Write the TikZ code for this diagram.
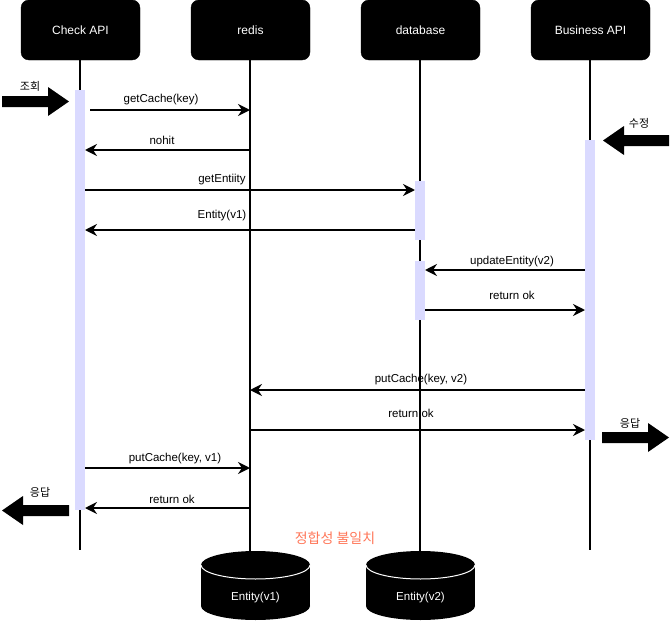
\documentclass[tikz,border=0pt]{standalone}
\usepackage{fontspec}
\setmainfont{Liberation Sans}
\newfontfamily\kr{Noto Sans CJK KR}
\usetikzlibrary{arrows.meta}
\definecolor{actv}{RGB}{218,218,255}
\definecolor{warnred}{RGB}{255,118,88}
\tikzset{
  header/.style={rectangle, rounded corners=8pt, fill=black, draw=black, text=white,
    minimum width=119pt, minimum height=60pt, inner sep=0pt, font=\fontsize{12}{14}\selectfont},
  lifeline/.style={line width=1.3pt, draw=black},
  actbox/.style={rectangle, fill=actv, draw=none, minimum width=10pt, inner sep=0pt},
  msg/.style={line width=2.2pt, -{Stealth[length=12pt, width=12pt, inset=4pt]}},
  lbl/.style={font=\fontsize{11.5}{13}\selectfont, inner sep=0pt},
  krl/.style={font=\kr\fontsize{11}{13}\selectfont, inner sep=0pt},
  blockarrow/.style={fill=black, draw=none},
  dbtext/.style={text=white, font=\fontsize{11.5}{13}\selectfont, inner sep=0pt}
}
\begin{document}
\begin{tikzpicture}[x=1pt, y=-1pt]
\useasboundingbox (0,0) rectangle (670,621);
% headers
\node[header] (h1) at (80.5,30) {Check API};
\node[header] (h2) at (250.5,30) {redis};
\node[header] (h3) at (420.5,30) {database};
\node[header] (h4) at (590.5,30) {Business API};
% lifeline ends
\coordinate (e1) at (80,550);
\coordinate (e2) at (250,551);
\coordinate (e3) at (420,551);
\coordinate (e4) at (590,550);
\draw[lifeline] (80,60) -- (e1);
\draw[lifeline] (250,60) -- (e2);
\draw[lifeline] (420,60) -- (e3);
\draw[lifeline] (590,60) -- (e4);
% activations
\node[actbox, minimum height=420pt] (a1) at (80,300) {};
\node[actbox, minimum height=59pt] (a3) at (420,210.5) {};
\node[actbox, minimum height=59pt] (a3b) at (420,290.5) {};
\node[actbox, minimum height=300pt] (a4) at (590,290) {};
% message endpoints
\coordinate (m1s) at (90,110);   \coordinate (m1e) at (250,110);
\coordinate (m2s) at (250,150);  \coordinate (m2e) at (85,150);
\coordinate (m3s) at (85,190);   \coordinate (m3e) at (415,190);
\coordinate (m4s) at (415,230);  \coordinate (m4e) at (85,230);
\coordinate (m5s) at (585,270);  \coordinate (m5e) at (425,270);
\coordinate (m6s) at (425,310);  \coordinate (m6e) at (585,310);
\coordinate (m7s) at (585,390);  \coordinate (m7e) at (250,390);
\coordinate (m8s) at (250,430);  \coordinate (m8e) at (585,430);
\coordinate (m9s) at (85,468);   \coordinate (m9e) at (250,468);
\coordinate (m10s) at (250,508); \coordinate (m10e) at (85,508);
\draw[msg] (m1s) -- (m1e);
\draw[msg] (m2s) -- (m2e);
\draw[msg] (m3s) -- (m3e);
\draw[msg] (m4s) -- (m4e);
\draw[msg] (m5s) -- (m5e);
\draw[msg] (m6s) -- (m6e);
\draw[msg] (m7s) -- (m7e);
\draw[msg] (m8s) -- (m8e);
\draw[msg] (m9s) -- (m9e);
\draw[msg] (m10s) -- (m10e);
% labels
\node[lbl] (l1) at (161,100) {getCache(key)};
\node[lbl] (l2) at (162,140) {nohit};
\node[lbl] (l3) at (222,180) {getEntiity};
\node[lbl] (l4) at (222,216) {Entity(v1)};
\node[lbl] (l5) at (512,262) {updateEntity(v2)};
\node[lbl] (l6) at (512,295) {return ok};
\node[lbl] (l7) at (421,380) {putCache(key, v2)};
\node[lbl] (l8) at (411,413) {return ok};
\node[lbl] (l9) at (175,459) {putCache(key, v1)};
\node[lbl] (l10) at (172,499) {return ok};
% block arrows
\fill[blockarrow] (2,96) -- (48,96) -- (48,87) -- (69,101.5) -- (48,116) -- (48,107) -- (2,107) -- cycle;
\node[krl] (k1) at (30,86) {조회};
\fill[blockarrow] (669,135) -- (624,135) -- (624,126) -- (603,140.5) -- (624,155) -- (624,146) -- (669,146) -- cycle;
\node[krl] (k2) at (639,123) {수정};
\fill[blockarrow] (602,432) -- (648,432) -- (648,423) -- (669,437.5) -- (648,452) -- (648,443) -- (602,443) -- cycle;
\node[krl] (k3) at (630,423) {응답};
\fill[blockarrow] (69,505) -- (23,505) -- (23,496) -- (2,510.5) -- (23,525) -- (23,516) -- (69,516) -- cycle;
\node[krl] (k4) at (40,492) {응답};
% warning
\node[font=\kr\fontsize{14}{16}\selectfont, text=warnred, inner sep=0pt] (warn) at (335,538) {정합성 불일치};
% cylinders
\fill (201,565) rectangle (310,606);
\fill (255.5,565) ellipse [x radius=54.5, y radius=14];
\fill (255.5,606) ellipse [x radius=54.5, y radius=14];
\draw[white, line width=1pt] (201,565) arc[start angle=180, end angle=0, x radius=54.5, y radius=14];
\node[dbtext] (c1) at (255.5,598) {Entity(v1)};
\fill (366,565) rectangle (475,606);
\fill (420.5,565) ellipse [x radius=54.5, y radius=14];
\fill (420.5,606) ellipse [x radius=54.5, y radius=14];
\draw[white, line width=1pt] (366,565) arc[start angle=180, end angle=0, x radius=54.5, y radius=14];
\node[dbtext] (c2) at (420.5,598) {Entity(v2)};
\end{tikzpicture}
\end{document}
